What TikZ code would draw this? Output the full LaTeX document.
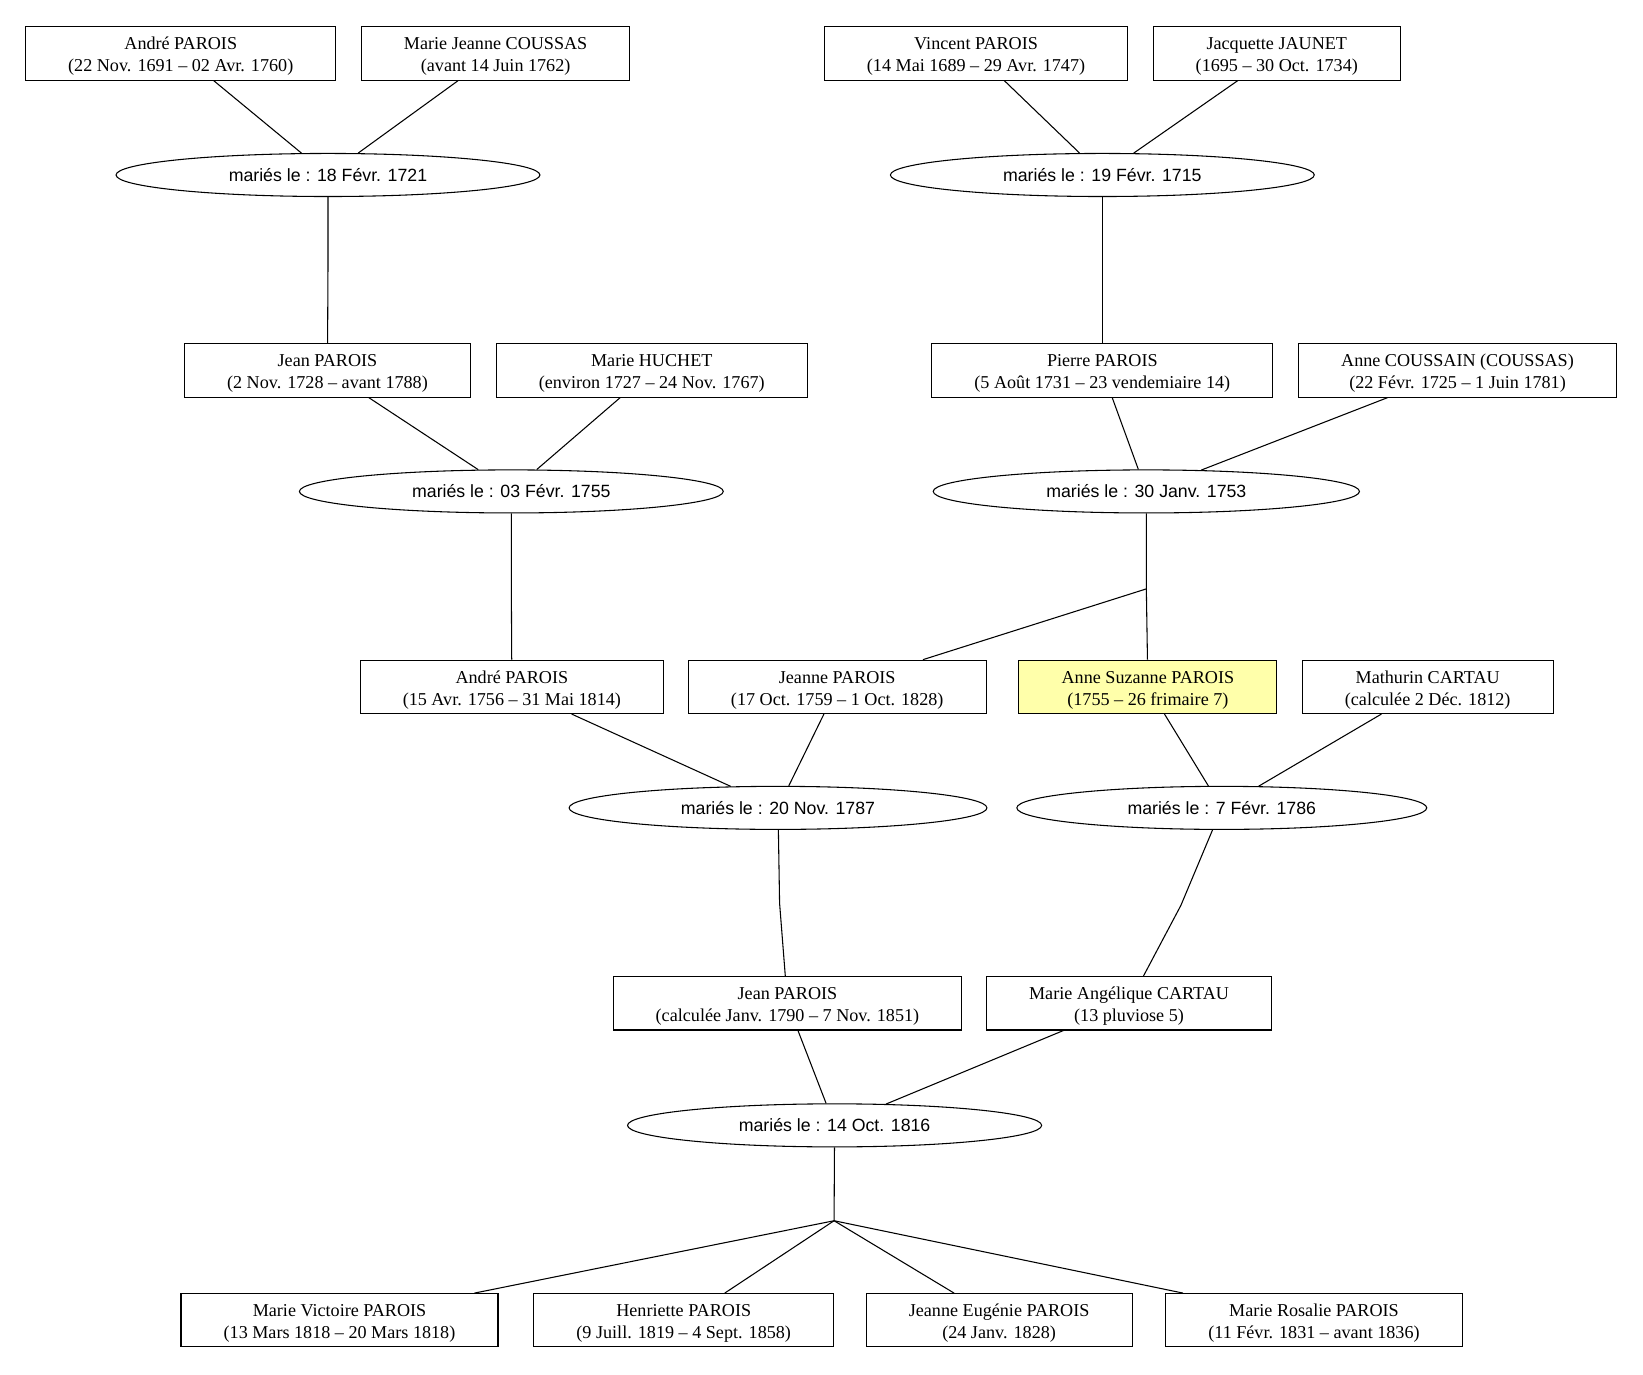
\documentclass[tikz,border=0pt]{standalone}
\usepackage{fontspec}
\setmainfont{Liberation Serif}
\setsansfont{Liberation Sans}
\usetikzlibrary{
    shapes.geometric,
    positioning
}
\definecolor{hilite}{RGB}{255,255,170}

\begin{document}
\begin{tikzpicture}[
    x=0.786pt, y=-0.786pt,
    personnode/.style = {rectangle, draw, line width=0.8pt, align=center,
                         font=\fontsize{13.6}{16.6}\selectfont,
                         text height=30.7pt, text depth=3pt,
                         inner xsep=32pt, inner ysep=2pt, minimum height=40pt},
    mariagenode/.style = {ellipse, draw, line width=0.8pt,
                          font=\sffamily\fontsize{13.3}{16}\selectfont,
                          inner xsep=38pt, inner ysep=2pt, minimum height=32.3pt},
    lien/.style = {line width=0.8pt},
]
    \useasboundingbox (0,0) rectangle (1568,1312);

    %Nodes
    \node[personnode] (andre1)    at (172.5,51)  {André PAROIS\\(22 Nov. 1691 – 02 Avr. 1760)};
    \node[personnode] (mjcoussas) at (473,51)    {Marie Jeanne COUSSAS\\(avant 14 Juin 1762)};
    \node[personnode] (vincent)   at (931.5,51)  {Vincent PAROIS\\(14 Mai 1689 – 29 Avr. 1747)};
    \node[personnode] (jacquette) at (1218.5,51) {Jacquette JAUNET\\(1695 – 30 Oct. 1734)};

    \node[mariagenode] (m1721) at (313,167)  {mariés le : 18 Févr. 1721};
    \node[mariagenode] (m1715) at (1052,167) {mariés le : 19 Févr. 1715};
    \coordinate (mid1) at (313,258);
    \coordinate (mid2) at (1052,258);

    \node[personnode] (jean1)    at (312.5,353.5) {Jean PAROIS\\(2 Nov. 1728 – avant 1788)};
    \node[personnode] (huchet)   at (622,353.5)   {Marie HUCHET\\(environ 1727 – 24 Nov. 1767)};
    \node[personnode] (pierre)   at (1052,353.5)  {Pierre PAROIS\\(5 Août 1731 – 23 vendemiaire 14)};
    \node[personnode] (coussain) at (1391,353.5)  {Anne COUSSAIN (COUSSAS)\\(22 Févr. 1725 – 1 Juin 1781)};

    \node[mariagenode] (m1755) at (488,469)  {mariés le : 03 Févr. 1755};
    \node[mariagenode] (m1753) at (1094,469) {mariés le : 30 Janv. 1753};
    \coordinate (mid3)  at (488,562);
    \coordinate (fork4) at (1094,562);

    \node[personnode] (andre2)   at (488.5,655.5)  {André PAROIS\\(15 Avr. 1756 – 31 Mai 1814)};
    \node[personnode] (jeanne)   at (799,655.5)    {Jeanne PAROIS\\(17 Oct. 1759 – 1 Oct. 1828)};
    \node[personnode, fill=hilite] (annesuz) at (1095.5,655.5) {Anne Suzanne PAROIS\\(1755 – 26 frimaire 7)};
    \node[personnode] (mathurin) at (1362.5,655.5) {Mathurin CARTAU\\(calculée 2 Déc. 1812)};

    \node[mariagenode] (m1787) at (742.5,771) {mariés le : 20 Nov. 1787};
    \node[mariagenode] (m1786) at (1166,771)  {mariés le : 7 Févr. 1786};
    \coordinate (mid5) at (744,862);
    \coordinate (mid6) at (1127,864);

    \node[personnode] (jean2)     at (751.5,957.5)  {Jean PAROIS\\(calculée Janv. 1790 – 7 Nov. 1851)};
    \node[personnode] (angelique) at (1077.5,957.5) {Marie Angélique CARTAU\\(13 pluviose 5)};

    \node[mariagenode] (m1816) at (796.5,1074) {mariés le : 14 Oct. 1816};
    \coordinate (fork7) at (796,1165);

    \node[personnode] (victoire)  at (324,1260)   {Marie Victoire PAROIS\\(13 Mars 1818 – 20 Mars 1818)};
    \node[personnode] (henriette) at (652.5,1260) {Henriette PAROIS\\(9 Juill. 1819 – 4 Sept. 1858)};
    \node[personnode] (eugenie)   at (953.5,1260) {Jeanne Eugénie PAROIS\\(24 Janv. 1828)};
    \node[personnode] (rosalie)   at (1254,1260)  {Marie Rosalie PAROIS\\(11 Févr. 1831 – avant 1836)};

    %Lines
    \draw[lien] (andre1) -- (m1721);
    \draw[lien] (mjcoussas) -- (m1721);
    \draw[lien] (vincent) -- (m1715);
    \draw[lien] (jacquette) -- (m1715);
    \draw[lien] (m1721) -- (mid1) -- (jean1);
    \draw[lien] (m1715) -- (mid2) -- (pierre);

    \draw[lien] (jean1) -- (m1755);
    \draw[lien] (huchet) -- (m1755);
    \draw[lien] (pierre) -- (m1753);
    \draw[lien] (coussain) -- (m1753);
    \draw[lien] (m1755) -- (mid3) -- (andre2);
    \draw[lien] (m1753) -- (fork4) -- (jeanne);
    \draw[lien] (fork4) -- (annesuz);

    \draw[lien] (andre2) -- (m1787);
    \draw[lien] (jeanne) -- (m1787);
    \draw[lien] (annesuz) -- (m1786);
    \draw[lien] (mathurin) -- (m1786);
    \draw[lien] (m1787) -- (mid5) -- (jean2);
    \draw[lien] (m1786) -- (mid6) -- (angelique);

    \draw[lien] (jean2) -- (m1816);
    \draw[lien] (angelique) -- (m1816);
    \draw[lien] (m1816) -- (fork7);
    \foreach \enfant in {victoire, henriette, eugenie, rosalie}
        \draw[lien] (fork7) -- (\enfant);
\end{tikzpicture}
\end{document}
